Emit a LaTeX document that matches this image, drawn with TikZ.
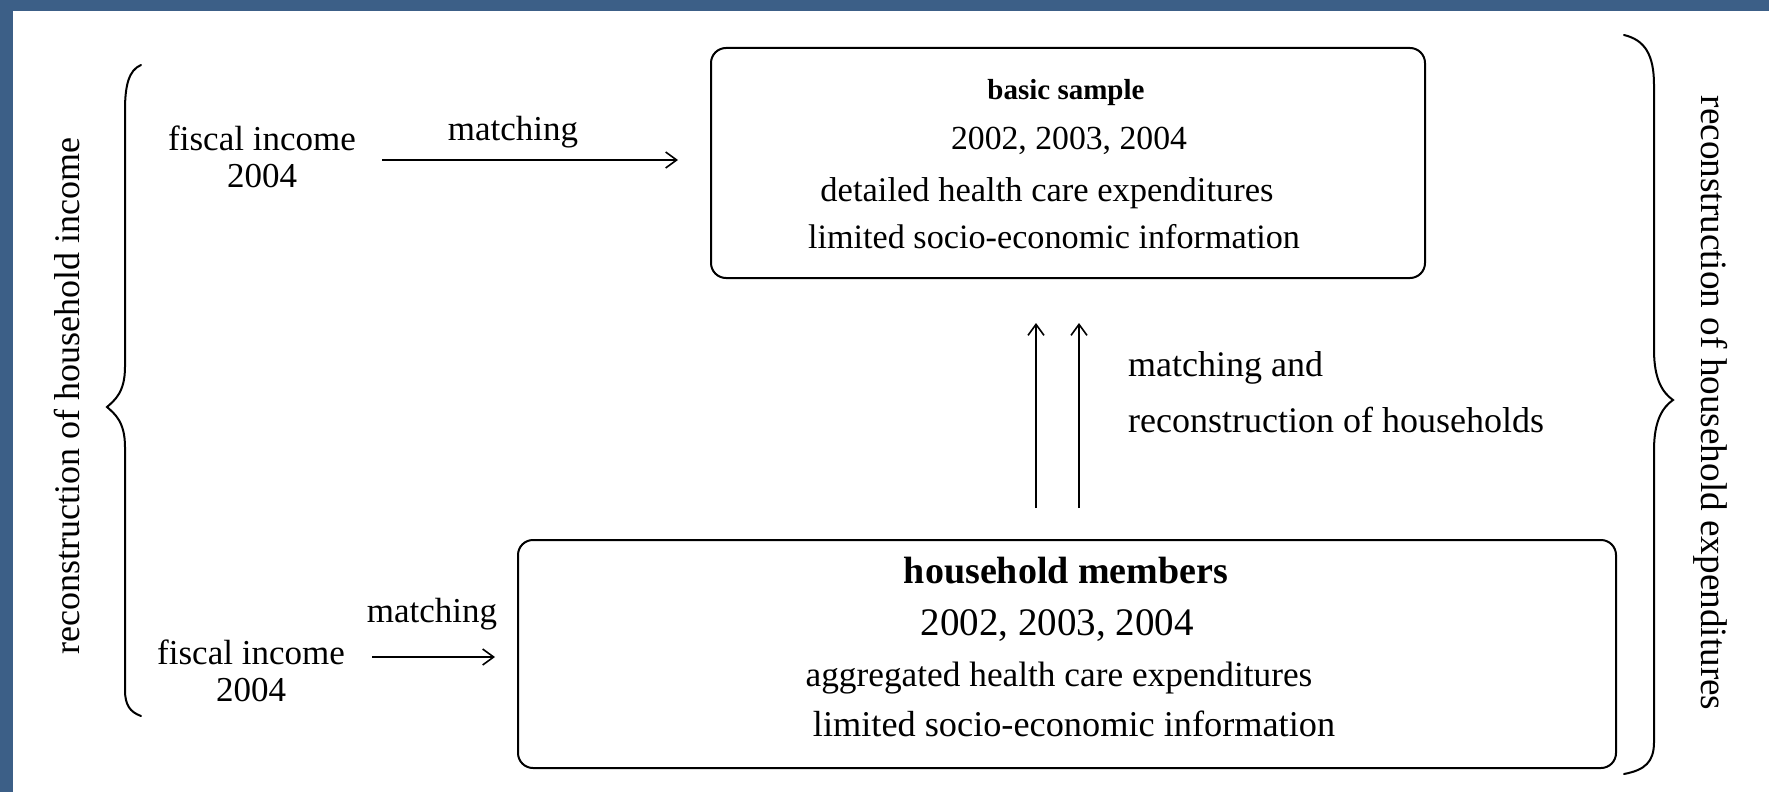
\documentclass[tikz,border=0pt]{standalone}
\usepackage{fontspec}
\setmainfont{Liberation Serif}
\usetikzlibrary{arrows.meta}
\definecolor{framecol}{RGB}{60,95,135}
\begin{document}
\begin{tikzpicture}[x=1pt,y=-1pt,
  box/.style={draw, rounded corners=15pt, line width=2pt, inner sep=0pt, anchor=north west},
  txt/.style={inner sep=0pt, text height=24pt, text depth=7pt, anchor=center},
  arr/.style={-{Straight Barb[length=11pt,width=16pt,line width=1.6pt]}, line width=2pt},
  brace/.style={line width=2pt, line cap=round},
  fA/.style={font=\fontsize{35}{37}\selectfont},
]
\useasboundingbox (0,0) rectangle (1769,792);
\fill[white] (0,0) rectangle (1769,792);
\fill[framecol] (0,0) rectangle (1769,11);
\fill[framecol] (0,0) rectangle (13,792);

% boxes
\node[box, minimum width=714pt, minimum height=230pt] (top) at (710,47) {};
\node[box, minimum width=1098pt, minimum height=228pt] (bot) at (517,539) {};

% top box text
\node[txt, font=\fontsize{29}{31}\selectfont\bfseries] (t1) at (1066,91) {basic sample};
\node[txt, font=\fontsize{33.7}{35}\selectfont] (t2) at (1069,141) {2002, 2003, 2004};
\node[txt, font=\fontsize{34.5}{36}\selectfont] (t3) at (1047,193) {detailed health care expenditures};
\node[txt, font=\fontsize{34.2}{36}\selectfont] (t4) at (1054,240) {limited socio-economic information};

% bottom box text
\node[txt, font=\fontsize{38}{40}\selectfont\bfseries] (b1) at (1066,575) {household members};
\node[txt, font=\fontsize{39}{41}\selectfont] (b2) at (1057,627) {2002, 2003, 2004};
\node[txt, font=\fontsize{35.3}{37}\selectfont] (b3) at (1059,678) {aggregated health care expenditures};
\node[txt, font=\fontsize{36.3}{38}\selectfont] (b4) at (1074,728) {limited socio-economic information};

% fiscal income nodes
\node[inner sep=0pt, align=center, fA] (fi1) at (262,157) {fiscal income\\2004};
\node[inner sep=0pt, align=center, fA] (fi2) at (251,671) {fiscal income\\2004};

% matching labels
\node[txt, fA] (m1) at (513,132) {matching};
\node[txt, fA] (m2) at (432,614) {matching};

% arrows left
\coordinate (a1s) at (382,160);
\coordinate (a2s) at (372,657);
\draw[arr, shorten >=32pt] (a1s) -- (top.west |- a1s);
\draw[arr, shorten >=22pt] (a2s) -- (bot.west |- a2s);

% up arrows
\coordinate (u1) at (1036,0);
\coordinate (u2) at (1079,0);
\draw[arr, shorten <=31pt, shorten >=44pt] (bot.north -| u1) -- (top.south -| u1);
\draw[arr, shorten <=31pt, shorten >=44pt] (bot.north -| u2) -- (top.south -| u2);

\node[inner sep=0pt, align=left, anchor=west, font=\fontsize{36}{56}\selectfont] (mr) at (1128,392)
  {matching and\\reconstruction of households};

% braces
\draw[brace] (141,65) .. controls (129,70) and (125,85) .. (125,110) -- (125,367)
  .. controls (125,392) and (115,400) .. (107,407)
  .. controls (115,414) and (125,422) .. (125,447) -- (125,690)
  .. controls (125,705) and (130,712) .. (141,716);
\draw[brace] (1624,35) .. controls (1645,40) and (1654,55) .. (1654,85) -- (1654,350)
  .. controls (1654,380) and (1663,393) .. (1673,400)
  .. controls (1663,407) and (1654,420) .. (1654,450) -- (1654,742)
  .. controls (1654,762) and (1645,770) .. (1624,774);

% side labels
\node[inner sep=0pt, rotate=90, font=\fontsize{36}{38}\selectfont] (lt) at (67,396) {reconstruction of household income};
\node[inner sep=0pt, rotate=-90, font=\fontsize{37.2}{39}\selectfont] (rt) at (1711,403) {reconstruction of household expenditures};
\end{tikzpicture}
\end{document}
